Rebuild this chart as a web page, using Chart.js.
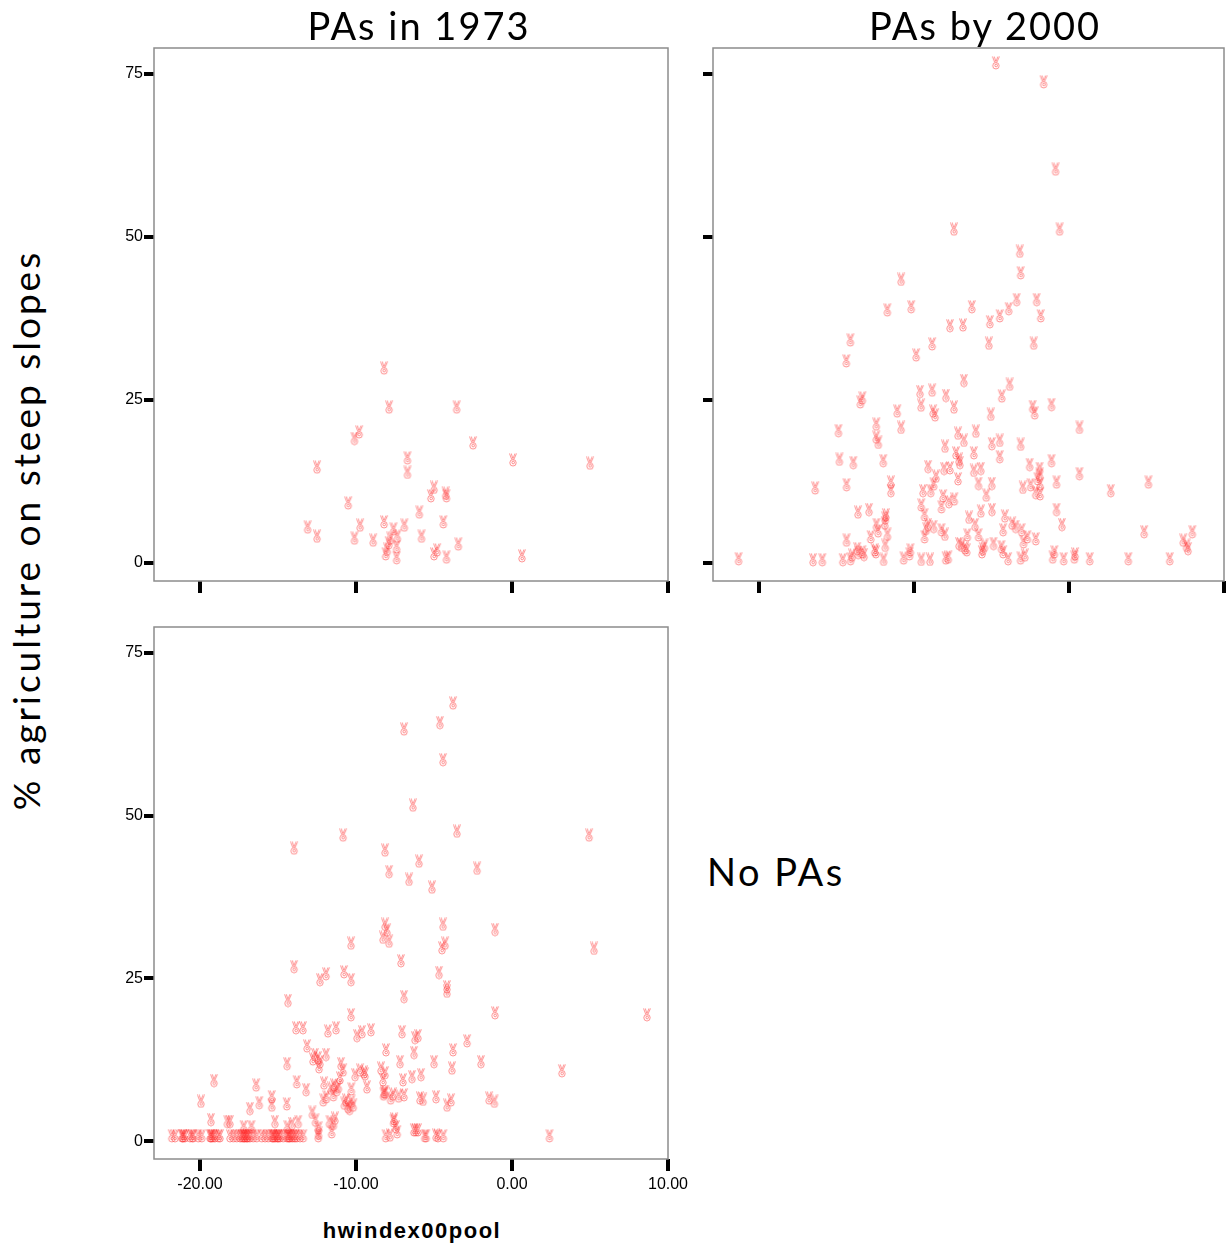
<!DOCTYPE html>
<html>
<head>
<meta charset="utf-8">
<script src="https://cdn.jsdelivr.net/npm/chart.js@4.4.0/dist/chart.umd.min.js"></script>
<style>
  html, body { margin: 0; padding: 0; background: #fff; overflow: hidden; }
  #page { position: relative; width: 1230px; height: 1245px; }
  canvas { position: absolute; }
  .lbl { position: absolute; color: #000; white-space: nowrap; line-height: 1; font-family: Lato, 'Open Sans', sans-serif; }
</style>
</head>
<body>
<div id="page">
  <canvas id="c1973"></canvas>
  <canvas id="c2000"></canvas>
  <canvas id="cNone"></canvas>
  <div class="lbl" id="t1973" style="left:419px;top:6px;font-size:38px;letter-spacing:2px;transform:translateX(-50%);">PAs in 1973</div>
  <div class="lbl" id="t2000" style="left:985px;top:6px;font-size:38px;letter-spacing:2px;transform:translateX(-50%);">PAs by 2000</div>
  <div class="lbl" id="tNone" style="left:707px;top:852px;font-size:38px;letter-spacing:2.5px;">No PAs</div>
  <div class="lbl" id="yTitle" style="left:25px;top:530px;font-size:37px;letter-spacing:3px;transform:translate(-50%,-50%) rotate(-90deg);">% agriculture on steep slopes</div>
  <div class="lbl" id="xTitle" style="left:412px;top:1220px;font-size:22px;font-weight:bold;letter-spacing:1.5px;transform:translateX(-50%);font-family:'Liberation Sans', Arial, sans-serif;">hwindex00pool</div>
</div>
<script>
// axis setup
const X_MIN = -22.95, X_MAX = 10;
const Y_MIN = -2.75, Y_MAX = 79;
const xTickValues = [-20, -10, 0, 10];
const yTickValues = [0, 25, 50, 75];

// PAs in 1973
const pa1973X = [-8.2, -7.88, -3.55, -9.8, -10.1, -2.5, -12.5, -6.7, -6.7, 0.06, 5.0, -10.5, -5.0, -5.2, -4.25, -4.2,
  -5.94, -13.1, -12.5, -9.74, -10.1, -8.2, -8.9, -7.6, -6.9, -7.35, -7.8, -7.9, -8.0, -8.1, -7.4, -7.4, -4.4, -5.8,
  -3.44, -5.0, -4.8, -4.2, 0.64];
const pa1973Y = [29.9, 23.9, 23.9, 20.1, 19.1, 18.4, 14.7, 16.1, 13.9, 15.8, 15.3, 9.2, 11.6, 10.3, 10.7, 10.3,
  7.8, 5.5, 4.1, 5.8, 3.8, 6.3, 3.5, 5.2, 5.8, 4.1, 3.8, 3.1, 2.1, 1.4, 2.5, 0.8, 6.3, 4.1,
  2.9, 1.4, 2.0, 0.9, 1.1];

// PAs by 2000
const pa2000X = [-21.3, -16.36, -16.5, -15.9, -14.34, -14.58, -14.08, -13.98, -13.65, -13.58, -13.32, -13.21, -14.34,
  -13.6, -12.89, -12.78, -12.52, -12.45, -11.7, -11.84, -12.41, -12.3, -11.84, -11.87, -11.8, -11.95, -11.48, -11.48,
  -10.66, -10.28, -10.22, -9.52, -8.96, -9.41, -8.91, -8.72, -9.52, -9.31, -9.09, -9.2, -8.72, -9.31, -8.22, -8.0,
  -8.11, -8.22, -7.74, -7.39, -7.94, -7.78, -7.09, -6.92, -6.7, -6.55, -6.59, -6.44, -6.05, -5.83, -5.68, -4.96,
  -5.33, -5.83, -5.61, -5.55, -5.44, -4.86, -4.35, -4.24, -3.92, -4.24, -4.13, -3.66, -3.44, -3.05, -2.68, -2.93,
  -3.12, -2.84, -2.14, -2.97, -2.14, -1.86, -1.86, -4.97, -1.05, -0.94, -0.34, 0.35, 0.4, 1.34, -0.8, -0.45, -0.8,
  2.7, 3.83, 4.85, 5.13, 6.5, 7.37, 7.59, 7.68, 7.96, -7.15, -2.02, -2.47,
  -4.71, -1.63, -0.86, -0.6, -7.41, -3.17, -3.11, -10.82, -11.71, -10.17, -14.09, -14.35, -9.85, -8.82, -6.26, -7.67,
  -6.83, -5.16, -5.1, -4.46, -3.88, -3.37, -2.08, -1.82, -2.27, -6.77, -3.82, -4.33, -1.12, -2.34, -2.21, 0.68,
  -1.12, 0.68, -14.8, -13.9, -14.86, -13.45, -13.32, -12.42, -12.42, -12.29, -11.97, -11.07, -10.82, -9.08, -8.57,
  -8.05, -7.99, -7.67, -9.6, -9.53, -8.82, -8.76, -8.63, -7.93, -7.41, -7.15, -7.09, -7.28, -7.03, -6.77, -6.13,
  -6.13, -6.0, -5.68, -5.04, -4.97, -4.46, -4.46, -3.11, -1.89, -2.53, -1.89];
const pa2000Y = [0.65, 11.5, 0.5, 0.5, 12.0, 0.5, 0.65, 1.2, 2.2, 1.6, 1.7, 1.3, 3.5,
  7.8, 8.2, 4.0, 2.0, 1.7, 4.4, 2.7, 5.9, 4.9, 6.9, 6.1, 7.4, 0.55, 12.4, 11.1,
  0.75, 1.4, 2.0, 0.55, 0.55, 11.1, 11.1, 12.1, 8.9, 7.4, 5.9, 5.3, 5.6, 4.0, 5.1, 4.4,
  10.3, 8.6, 9.4, 9.8, 0.75, 0.9, 3.0, 2.7, 2.3, 4.3, 2.0, 7.0, 5.9, 4.3, 7.95, 8.2,
  10.4, 12.2, 1.7, 2.2, 2.7, 3.0, 2.5, 1.7, 0.65, 5.1, 7.2, 6.1, 5.6, 5.1, 4.0, 3.25,
  0.75, 1.2, 3.7, 11.6, 10.8, 10.6, 12.1, 12.2, 0.9, 1.7, 0.65, 0.9, 1.4, 0.65, 8.2, 5.9, 12.4,
  11.1, 0.65, 4.8, 12.4, 0.65, 3.5, 2.7, 2.2, 4.8, 12.9, 12.9, 12.0,
  76.7, 73.8, 60.4, 51.2, 51.2, 47.8, 44.5, 43.5, 38.8, 39.3, 34.2, 31.0, 31.9, 33.6, 39.3, 36.4,
  36.5, 33.7, 37.0, 37.9, 39.0, 40.4, 40.4, 37.9, 33.7, 28.0, 27.4, 25.6, 24.3, 24.0, 23.0, 20.8,
  15.7, 13.7, 15.9, 15.4, 20.3, 24.7, 25.3, 21.3, 19.3, 18.5, 15.7, 23.3, 20.8, 14.8, 13.3,
  14.5, 17.9, 14.6, 26.3, 24.2, 26.5, 23.3, 22.7, 25.7, 23.9, 19.9, 15.9, 16.9, 15.4, 18.8, 16.9,
  14.2, 20.2, 14.5, 22.8, 18.3, 18.8, 16.3, 18.2, 13.6, 15.1, 14.5];

// No PAs
const noPaX = [-21.81, -21.6, -21.17, -21.07, -20.96, -20.64, -20.43, -20.11, -19.89, -19.36, -19.25, -19.15, -19.04,
  -18.83, -18.72, -18.08, -17.86, -17.65, -17.44, -17.33, -17.22, -17.12, -17.01, -16.9, -16.79, -16.58, -16.37,
  -16.05, -15.83, -15.62, -15.4, -15.3, -15.19, -15.09, -14.98, -14.87, -14.66, -14.44, -14.34, -14.23, -14.12,
  -14.02, -13.91, -13.8, -13.59, -13.38, -12.42, -21.1, -20.5, -19.3, -17.2, -17.0, -15.3, -15.0, -14.3,
  -19.94, -19.3, -18.25, -18.08, -16.8, -16.2, -15.4, -15.4, -14.44, -15.2, -17.2, -16.7, -14.1, -13.7, -14.4,
  -13.2, -12.8, -12.6, -12.4, -12.4, -12.1, -11.9, -11.6, -11.45, -11.24, -11.13, -11.7, -11.45, -11.35, -11.56,
  -19.1, -16.4, -13.8, -10.75, -10.52, -10.29, -10.18, -10.41, -10.3, -9.3, -8.23, -8.12, -7.78, -7.27, -7.59,
  -7.36, -8.1, -6.17, -6.03, -6.29, -5.7, -5.6, -5.5, -4.75, -4.4, -4.16, -1.13, 2.4,
  -3.78, -4.62, -6.92, -4.42, -6.35, -3.53, -10.83, 4.94, -13.97, -8.14, -5.96, -7.88, -2.24, -6.6, -5.13, -8.14,
  -8.01, -8.27, -7.88, -4.42, -4.29, -4.49, -1.09, -10.32, 5.26, -7.12, -13.97, -10.77, -11.92, -12.31, -10.32,
  -4.68, -4.17, -4.17, -6.92, -14.36, 8.65, -10.32, -1.09, -13.85, -13.4, -11.8, -11.28, -9.94, -9.62, -9.04,
  -7.05, -6.03, -6.22, -13.14, -8.08, -6.28, -3.78, -2.88, -12.63, -12.44, -12.76, -12.31, -12.37, -11.92, -10.96,
  -10.83, -11.03, -14.42, -7.18, -8.4, -8.14, -5.0, -3.85, -1.99, 3.2, -9.74, -9.49, -10.06, -9.42, -8.27, -6.99,
  -6.41, -5.83, -12.05, -11.41, -7.63, -8.2, -6.92, -5.9, -4.87, -3.91, -1.47, -10.64, -7.56, -7.44, -7.82, -4.87];
const noPaY = [0.8, 0.8, 0.8, 0.8, 0.8, 0.8, 0.8, 0.8, 0.8, 0.8, 0.8, 0.8, 0.8,
  0.8, 0.8, 0.8, 0.8, 0.8, 0.8, 0.8, 0.8, 0.8, 0.8, 0.8, 0.8, 0.8, 0.8,
  0.8, 0.8, 0.8, 0.8, 0.8, 0.8, 0.8, 0.8, 0.8, 0.8, 0.8, 0.8, 0.8, 0.8,
  0.8, 0.8, 0.8, 0.8, 0.8, 0.8, 0.8, 0.8, 0.8, 0.8, 0.8, 0.8, 0.8, 0.8,
  6.1, 3.3, 3.0, 3.0, 5.0, 5.9, 6.8, 5.5, 5.7, 3.0, 2.2, 2.2, 2.7, 3.0, 2.2,
  7.9, 4.4, 3.2, 2.0, 1.2, 6.3, 6.8, 8.1, 7.1, 7.9, 8.4, 3.0, 2.7, 3.5, 1.4,
  9.3, 8.6, 9.1, 5.8, 5.3, 6.1, 5.5, 5.0, 8.0, 8.3, 7.2, 7.5, 6.6, 6.9, 3.1,
  1.4, 0.8, 1.7, 1.7, 1.7, 6.4, 0.8, 0.8, 0.8, 0.8, 5.5, 6.1, 0.8,
  67.3, 64.3, 63.3, 58.6, 51.6, 47.6, 47.0, 47.0, 45.0, 44.7, 43.0, 41.4, 41.9, 40.2, 39.0, 33.3,
  32.4, 31.3, 30.7, 33.3, 30.4, 29.7, 32.5, 30.4, 29.6, 27.7, 26.8, 26.0, 25.7, 24.8, 24.8,
  25.9, 23.7, 23.0, 22.2, 21.6, 19.4, 19.4, 19.7, 17.4, 17.4, 16.9, 17.4, 16.2, 16.8, 17.1,
  16.8, 16.2, 15.9, 14.6, 14.0, 13.6, 14.0, 15.4, 13.3, 12.8, 12.6, 12.2, 11.4, 13.3, 11.9,
  10.9, 9.7, 11.9, 12.2, 11.2, 10.5, 12.2, 11.2, 12.2, 10.8, 10.9, 10.6, 10.2, 10.3, 9.4, 9.4,
  9.9, 10.2, 8.9, 8.6, 7.2, 7.5, 7.1, 6.6, 6.8, 6.3, 6.6, 6.3, 3.4, 2.2, 0.9, 0.9];

// the little "victory hand" marker SPSS uses
function makeMarker() {
  const c = document.createElement('canvas');
  c.width = 10; c.height = 14;
  const g = c.getContext('2d');
  g.strokeStyle = 'rgba(255,40,40,0.5)';
  g.lineWidth = 1;
  g.beginPath();
  // fingers
  g.moveTo(1.5, 0.5); g.lineTo(3.8, 6.5);
  g.moveTo(3.3, 0.5); g.lineTo(4.8, 5.5);
  g.moveTo(8.5, 0.5); g.lineTo(5.8, 6.5);
  g.moveTo(7.0, 0.5); g.lineTo(5.0, 5.5);
  g.stroke();
  // palm
  g.beginPath();
  g.arc(5, 9.8, 3.2, 0, Math.PI * 2);
  g.stroke();
  g.beginPath();
  g.arc(5.2, 9.5, 1.3, 0, Math.PI * 2);
  g.stroke();
  return c;
}
const marker = makeMarker();

const framePlugin = {
  id: 'frame',
  afterDraw(chart) {
    const a = chart.chartArea, ctx = chart.ctx;
    ctx.save();
    ctx.strokeStyle = '#8c8c8c';
    ctx.lineWidth = 1.5;
    ctx.strokeRect(a.left, a.top, a.right - a.left, a.bottom - a.top);
    ctx.restore();
  }
};

function makePanel(id, box, xs, ys, showX, showY, padR) {
  const padL = 54, padT = 8, xH = 45;
  const cv = document.getElementById(id);
  const w = box.r - box.l + padL + padR;
  const h = box.b - box.t + padT + xH;
  cv.width = w; cv.height = h;
  cv.style.width = w + 'px'; cv.style.height = h + 'px';
  cv.style.left = (box.l - padL) + 'px';
  cv.style.top = (box.t - padT) + 'px';

  const points = xs.map((x, i) => ({ x: x, y: ys[i] }));
  return new Chart(cv, {
    type: 'scatter',
    data: {
      datasets: [{
        data: points,
        pointStyle: marker,
        pointRadius: 5
      }]
    },
    options: {
      responsive: false,
      animation: false,
      events: [],
      layout: { padding: { left: 0, top: padT, right: padR, bottom: 0 } },
      plugins: { legend: { display: false }, tooltip: { enabled: false } },
      scales: {
        x: {
          type: 'linear', min: X_MIN, max: X_MAX,
          afterBuildTicks: s => { s.ticks = xTickValues.map(v => ({ value: v })); },
          afterFit: s => { s.height = xH; s.paddingLeft = 0; s.paddingRight = 0; },
          border: { display: false },
          grid: { drawOnChartArea: false, drawTicks: true, tickLength: 12, lineWidth: 4, color: '#000' },
          ticks: {
            autoSkip: false, maxRotation: 0, padding: 4, color: '#000',
            font: { family: "'Liberation Sans', Arial, sans-serif", size: 16 },
            callback: v => showX ? Number(v).toFixed(2) : ''
          }
        },
        y: {
          type: 'linear', min: Y_MIN, max: Y_MAX,
          afterBuildTicks: s => { s.ticks = yTickValues.map(v => ({ value: v })); },
          afterFit: s => { s.width = padL; s.paddingTop = 0; s.paddingBottom = 0; },
          border: { display: false },
          grid: { drawOnChartArea: false, drawTicks: true, tickLength: 10, lineWidth: 4, color: '#000' },
          ticks: {
            autoSkip: false, padding: 1, color: '#000',
            font: { family: "'Liberation Sans', Arial, sans-serif", size: 16 },
            callback: v => showY ? String(v) : ''
          }
        }
      }
    },
    plugins: [framePlugin]
  });
}

makePanel('c1973', { l: 154, r: 668, t: 48, b: 581 }, pa1973X, pa1973Y, false, true, 22);
makePanel('c2000', { l: 713, r: 1227, t: 48, b: 581 }, pa2000X, pa2000Y, false, false, 3);
makePanel('cNone', { l: 154, r: 668, t: 627, b: 1159 }, noPaX, noPaY, true, true, 30);
</script>
</body>
</html>
